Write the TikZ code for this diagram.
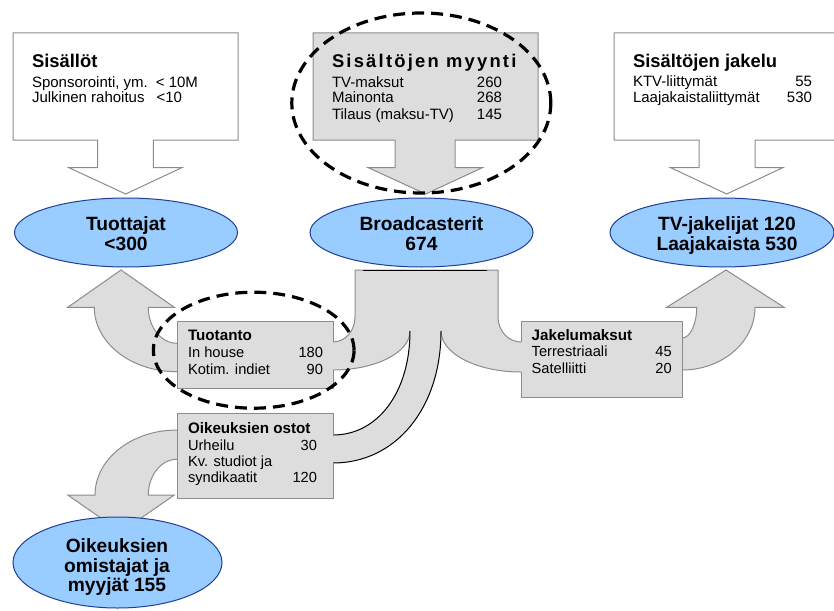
\documentclass[tikz,border=0pt]{standalone}
\usepackage{fontspec}
\setmainfont{Liberation Sans}
\newfontfamily\fSpacedFam[LetterSpace=12]{Liberation Sans}
\usetikzlibrary{shapes.geometric}
\definecolor{flowgray}{HTML}{DDDDDD}
\definecolor{edgegray}{HTML}{8C8C8C}
\definecolor{actorblue}{HTML}{99CCFF}
\definecolor{actoredge}{HTML}{1F3F99}
\newcommand\fBigTitle{\fontsize{13.8}{16}\selectfont\bfseries}
\newcommand\fSpacedTitle{\fSpacedFam\fontsize{13.8}{16}\selectfont\bfseries}
\newcommand\fBigBody{\fontsize{11.25}{12.4}\selectfont}
\newcommand\fSmallTitle{\fontsize{11.4}{12.4}\selectfont\bfseries}
\newcommand\fSmallBody{\fontsize{11}{12.4}\selectfont}
\newcommand\fActor{\fontsize{14.4}{14.7}\selectfont\bfseries}
\begin{document}
\begin{tikzpicture}[x=0.75pt,y=-0.75pt,
  wbox/.style={fill=white, draw=edgegray, line width=0.75pt},
  gfill/.style={fill=flowgray, draw=edgegray, line width=0.75pt},
  gline/.style={draw=edgegray, line width=0.75pt},
  blk/.style={draw=black, line width=0.75pt},
  bl/.style={anchor=base west, inner sep=0pt, outer sep=0pt},
  br/.style={anchor=base east, inner sep=0pt, outer sep=0pt},
  bt/.style={bl, font=\fBigTitle},
  bb/.style={bl, font=\fBigBody},
  bbr/.style={br, font=\fBigBody},
  st/.style={bl, font=\fSmallTitle},
  sb/.style={bl, font=\fSmallBody},
  sbr/.style={br, font=\fSmallBody},
  actor/.style={ellipse, fill=actorblue, draw=actoredge, line width=0.75pt, inner sep=0pt},
  atext/.style={anchor=base, inner sep=0pt, outer sep=0pt, font=\fActor},
  ring/.style={ellipse, draw=black, line width=2.4pt, dash pattern=on 9pt off 5.25pt, inner sep=0pt}
]
\clip (0,0) rectangle (834,610);
\fill[white] (0,0) rectangle (834,610);

% top callout boxes
\draw[wbox] (13,33) -- (238,33) -- (238,140) -- (153.3,140) -- (153.3,167.7) -- (181.7,167.7)
  -- (125.7,194) -- (69,167.7) -- (97.7,167.7) -- (97.7,140) -- (13,140) -- cycle;
\draw[gfill] (313,33) -- (538,33) -- (538,140) -- (455,140) -- (455,167.7) -- (482.3,167.7)
  -- (425.7,194) -- (368.3,167.7) -- (395,167.7) -- (395,140) -- (313,140) -- cycle;
\draw[wbox] (614,33) -- (845,33) -- (845,140) -- (755,140) -- (755,167.7) -- (782.7,167.7)
  -- (726.7,194) -- (670.7,167.7) -- (699,167.7) -- (699,140) -- (614,140) -- cycle;

% central flow (trunk with left and right branches)
\draw[gfill] (333,342) .. controls (345.2,342) and (355,330.8) .. (355,317) -- (355,270)
  -- (498,270) -- (498,317) .. controls (498,330.8) and (508.3,342) .. (521,342)
  -- (682,338) .. controls (690.1,338) and (696.7,324.3) .. (696.7,307.3)
  -- (666.7,307.3) -- (726,270) -- (784,307.3) -- (755,307.3)
  .. controls (755,341.9) and (722.3,370) .. (682,370)
  -- (521,372) .. controls (476.8,372) and (441,353.6) .. (441,331)
  -- (410,331) .. controls (410,352.5) and (375.5,370) .. (333,370)
  -- (177,371.7) .. controls (131.3,371.7) and (94.3,342.9) .. (94.3,307.3)
  -- (67.7,307.3) -- (121,270) -- (174.3,307.3) -- (148.3,307.3)
  .. controls (148.3,327.2) and (161.1,343.3) .. (177,343.3) -- cycle;
\draw[blk] (363,270) -- (487,270);

% middle stem down to rights purchases
\fill[flowgray] (410,325) -- (410,331) .. controls (410,392) and (378,435) .. (333,435)
  -- (300,435) -- (300,463) -- (333,463) .. controls (396,463) and (441,408) .. (441,331) -- (441,325) -- cycle;
\draw[blk] (410,331) .. controls (410,392) and (378,435) .. (333,435);
\draw[blk] (333,463) .. controls (396,463) and (441,408) .. (441,331);

% bottom-left branch
\draw[gfill] (177,430) .. controls (131.7,430) and (95,459.1) .. (95,495) -- (67.7,495)
  -- (121,532) -- (174.3,495) -- (148.3,495)
  .. controls (148.3,475.3) and (161.1,459.3) .. (177,459.3) -- (250,459.3) -- (250,430) -- cycle;

% small boxes
\fill[flowgray] (177,321) rectangle (333,388);
\draw[gline] (333,342) -- (333,321) -- (177,321) -- (177,388) -- (333,388) -- (333,370);
\fill[flowgray] (177,413) rectangle (333,498);
\draw[gline] (333,435) -- (333,413) -- (177,413) -- (177,498) -- (333,498) -- (333,463);
\fill[flowgray] (521,321) rectangle (682,397);
\draw[gline] (521,342) -- (521,321) -- (682,321) -- (682,397) -- (521,397) -- (521,372);

% texts of top boxes
\node[bt] (s1t) at (32,68) {Sisällöt};
\node[bb] (s1a) at (32,87) {Sponsorointi, ym.};
\node[bbr] (s1an) at (198,87) {< 10M};
\node[bb] (s1b) at (32,103) {Julkinen rahoitus};
\node[bbr] (s1bn) at (182,103) {<10};

\node[bl, font=\fSpacedTitle] (s2t) at (332,68) {Sisältöjen myynti};
\node[bb] (s2a) at (332,87) {TV-maksut};
\node[bbr] (s2an) at (502,87) {260};
\node[bb] (s2b) at (332,103) {Mainonta};
\node[bbr] (s2bn) at (502,103) {268};
\node[bb] (s2c) at (332,119.5) {Tilaus (maksu-TV)};
\node[bbr] (s2cn) at (502,119.5) {145};

\node[bt] (s3t) at (633,68) {Sisältöjen jakelu};
\node[bb] (s3a) at (633,86.5) {KTV-liittymät};
\node[bbr] (s3an) at (812,86.5) {55};
\node[bb] (s3b) at (633,103) {Laajakaistaliittymät};
\node[bbr] (s3bn) at (812,103) {530};

% texts of small boxes
\node[st] (tut) at (188,340.7) {Tuotanto};
\node[sb] (tua) at (188,357.7) {In house};
\node[sbr] (tuan) at (323,357.7) {180};
\node[sb] (tub) at (188,374) {Kotim. indiet};
\node[sbr] (tubn) at (323,374) {90};

\node[st] (ost) at (188,433) {Oikeuksien ostot};
\node[sb] (osa) at (188,450) {Urheilu};
\node[sbr] (osan) at (317,450) {30};
\node[sb] (osb) at (188,466) {Kv. studiot ja};
\node[sb] (osc) at (188,482) {syndikaatit};
\node[sbr] (oscn) at (317,482) {120};

\node[st] (jat) at (531.7,340) {Jakelumaksut};
\node[sb] (jaa) at (531.7,356.7) {Terrestriaali};
\node[sbr] (jaan) at (671.7,356.7) {45};
\node[sb] (jab) at (531.7,373) {Satelliitti};
\node[sbr] (jabn) at (671.7,373) {20};

% actors
\node[actor, minimum width=167.25pt, minimum height=51.75pt] (tuottajat) at (126,232.5) {};
\node[atext] (tu1) at (126,230.7) {Tuottajat};
\node[atext] (tu2) at (126,250) {<300};
\node[actor, minimum width=167.25pt, minimum height=51.75pt] (broad) at (421.5,232.5) {};
\node[atext] (br1) at (421.5,230.7) {Broadcasterit};
\node[atext] (br2) at (421.5,250) {674};
\node[actor, minimum width=168pt, minimum height=51.75pt] (tvjak) at (722,232.5) {};
\node[atext] (tv1) at (727,230.7) {TV-jakelijat 120};
\node[atext] (tv2) at (727,250) {Laajakaista 530};
\node[actor, minimum width=156.75pt, minimum height=68.25pt] (oik) at (117.5,562.5) {};
\node[atext] (ok1) at (117,552.3) {Oikeuksien};
\node[atext] (ok2) at (117,572.7) {omistajat ja};
\node[atext] (ok3) at (117,591.7) {myyjät 155};

% dashed highlight rings
\node[ring, minimum width=194.25pt, minimum height=135pt] (ring1) at (421.3,103) {};
\node[ring, minimum width=150.5pt, minimum height=87pt] (ring2) at (253.7,350.2) {};
\end{tikzpicture}
\end{document}
